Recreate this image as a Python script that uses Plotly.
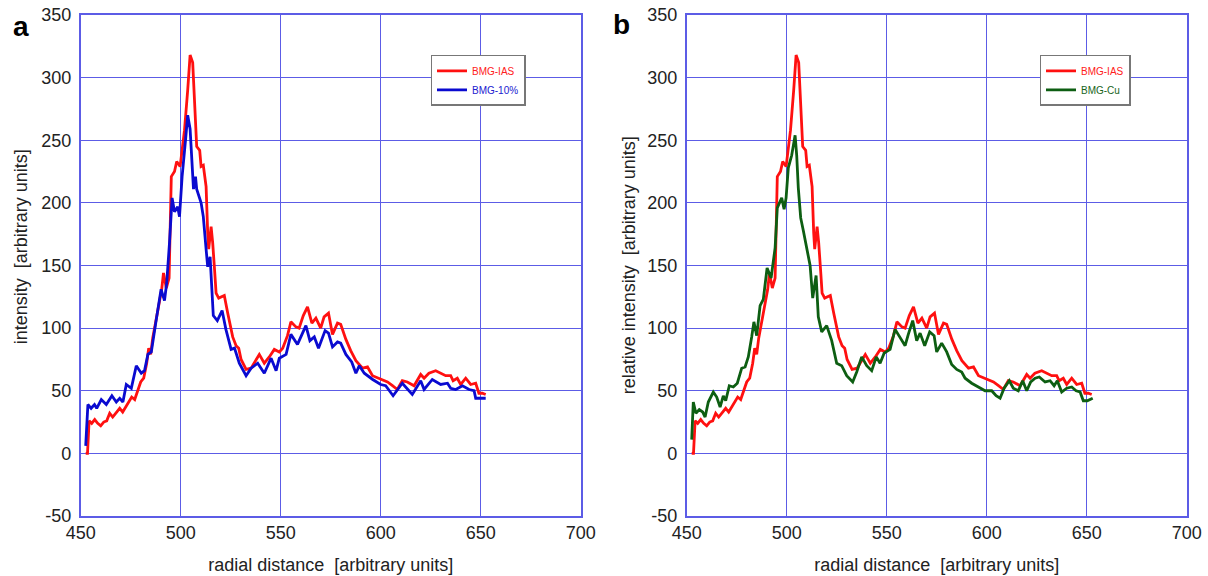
import plotly.graph_objects as go

# BMG-IAS (same curve in both panels)
ias_x = [452.5, 453.4, 454.2, 455.5, 457, 458.5, 460, 461.5, 463, 464.5, 466, 467.5, 469.5, 471, 472.5, 474,
         475.5, 477, 478.5, 480, 481.5, 483, 484, 485, 486, 487.8, 489.4, 490.5, 491.4, 492.8, 494.2, 495.3,
         496.9, 498, 499.7, 501.9, 503.5, 504.7, 506, 507.4, 508, 509.5, 510.2, 511.3, 512.7, 513.5, 514,
         515.2, 516, 517, 517.7, 519, 520.2, 521.8, 523.5, 526, 527.7, 529, 530.2, 532.7, 535.2, 537.7,
         539.3, 541.8, 544.3, 546.8, 549.3, 551, 553.4, 555.1, 557.6, 559.2, 561.3, 563.4, 565.6, 567.6,
         570, 571.7, 573.9, 575.9, 578.4, 580, 582.6, 585, 587.6, 590.9, 593.4, 595.9, 600, 603.4, 605.9,
         608.3, 610.8, 613.3, 616.7, 620, 621.7, 624.1, 627.5, 630, 632.5, 635, 636.2, 638.3, 640, 642.5,
         645, 647.5, 649.1, 650.8, 652.5]
ias_y = [0, 0, 26, 24, 27, 24, 22, 25, 26, 32, 29, 32, 36, 33, 37, 41,
         45, 43, 51, 57, 60, 72, 84, 79, 92, 107, 123, 131, 144, 132, 140, 221,
         225, 233, 229, 258, 290, 318, 312, 272, 245, 242, 229, 230, 213, 176, 163,
         181, 168, 145, 128, 124, 125, 126, 112, 93, 86, 84, 75, 67, 68, 75,
         79, 72, 77, 83, 81, 84, 94, 105, 101, 100, 110, 117, 104, 108,
         100, 109, 112, 95, 104, 103, 91, 82, 74, 68, 69, 62, 59, 57, 54,
         51, 58, 57, 54, 63, 60, 64, 66, 64, 62, 62, 58, 60, 55, 60,
         55, 56, 48, 48, 47]

# BMG-10%
p10_x = [452.5, 453.6, 455.2, 456.9, 458, 460.3, 462.8, 465.6, 467.8, 469.5, 471.1, 472.8, 475.3, 477.8,
         480.3, 481.9, 483.6, 485.3, 487.8, 490.2, 491.9, 493, 494.4, 495.7, 496.9, 498.5, 499.4, 500.7,
         502.4, 503.5, 504.7, 505.7, 506.4, 507.4, 508, 510.2, 511.3, 512.7, 513.5, 514.7, 516.3, 518.3,
         520.7, 522.6, 525.2, 526.9, 529.3, 532.7, 535.2, 538.5, 541.8, 545.2, 547.7, 549.3, 552.7, 555.1,
         558.4, 562.6, 564.6, 566.8, 568.9, 572.2, 573.9, 575.9, 578.4, 580, 582.6, 585.5, 587.6, 589.3,
         591.8, 596, 600, 602.5, 606.2, 610.8, 615.8, 620, 621.7, 625.8, 630, 633.4, 635, 637.5, 640.9,
         644.2, 646.7, 647.5, 650, 652.5]
p10_y = [6, 39, 36, 39, 36, 43, 39, 46, 41, 44, 41, 55, 52, 70,
         64, 66, 79, 81, 107, 131, 122, 136, 168, 204, 193, 197, 189, 221,
         250, 270, 259, 227, 211, 221, 211, 200, 189, 163, 149, 157, 110, 106,
         114, 99, 83, 84, 72, 62, 68, 72, 64, 76, 66, 76, 79, 95,
         87, 102, 90, 93, 84, 98, 96, 85, 89, 88, 79, 73, 64, 70,
         64, 59, 55, 54, 46, 56, 47, 58, 51, 59, 55, 56, 52, 51, 54,
         51, 50, 44, 44, 44]

# BMG-Cu
cu_x = [452.5, 453.3, 454.6, 456.3, 458, 459.2, 460.8, 463.3, 465, 466.7, 468.3, 469.5, 471.3, 473.3,
        475.3, 477.5, 479.2, 480.8, 482.5, 483.6, 485, 486.7, 488.3, 490.2, 492.2, 494.2, 495.3, 497.5,
        498.7, 499.7, 500.8, 502.5, 504.2, 505, 505.8, 507, 508.3, 510, 511.7, 513, 514.7, 515.8, 517.5,
        520, 522.5, 525, 527.5, 530, 533, 535, 537.5, 540, 542.5, 544.8, 546.7, 548.7, 551.7, 554.2,
        556.7, 559.2, 560.8, 563, 565, 566.7, 569, 571.5, 573.7, 575, 577.5, 580, 582.5, 585, 587.5,
        589.2, 592.5, 595.8, 599.2, 602.5, 604.7, 606.7, 608.7, 611.3, 613.3, 615.8, 618, 620, 622,
        624.2, 626.3, 629.2, 631.7, 633.7, 635.3, 637.5, 640, 642.5, 644.7, 646.7, 648.3, 650.3, 653]
cu_y = [11, 41, 32, 35, 33, 29, 41, 49, 45, 37, 46, 42, 54, 53,
        56, 68, 69, 77, 93, 105, 94, 118, 123, 148, 140, 164, 196, 204,
        195, 204, 228, 238, 254, 238, 212, 188, 178, 165, 150, 124, 142, 109, 97,
        102, 90, 72, 70, 62, 57, 65, 77, 70, 66, 77, 72, 80, 83, 99,
        92, 86, 95, 106, 90, 96, 86, 97, 94, 81, 88, 81, 71, 67, 65,
        60, 56, 53, 50, 50, 46, 44, 52, 58, 52, 50, 58, 50, 57,
        60, 61, 57, 58, 54, 58, 49, 52, 53, 50, 49, 42, 42, 44]

x_ticks = [450, 500, 550, 600, 650, 700]
y_ticks = [-50, 0, 50, 100, 150, 200, 250, 300, 350]
y_labels = ["-50", "0", "50", "100", "150", "200", "250", "300", "350"]

W, H = 1208, 576
T = 14.5
B = H - 516
grid = "#5c5ce6"
font = "Liberation Sans, Arial, sans-serif"
tfont = dict(size=18, color="#222", family=font)


def px(x):
    return x / W


def py(y):
    return 1 - (y - T) / (H - T - B)


fig = go.Figure()
fig.add_trace(go.Scatter(x=ias_x, y=ias_y, mode="lines", line=dict(color="#ff1010", width=2.8),
                         name="<span style='color:#ff2020'>BMG-IAS</span>", xaxis="x", yaxis="y", legend="legend"))
fig.add_trace(go.Scatter(x=p10_x, y=p10_y, mode="lines", line=dict(color="#0a0ad0", width=2.8),
                         name="<span style='color:#2020d0'>BMG-10%</span>", xaxis="x", yaxis="y", legend="legend"))
fig.add_trace(go.Scatter(x=ias_x, y=ias_y, mode="lines", line=dict(color="#ff1010", width=2.8),
                         name="<span style='color:#ff2020'>BMG-IAS</span>", xaxis="x2", yaxis="y2", legend="legend2"))
fig.add_trace(go.Scatter(x=cu_x, y=cu_y, mode="lines", line=dict(color="#0d5e12", width=2.8),
                         name="<span style='color:#17651a'>BMG-Cu</span>", xaxis="x2", yaxis="y2", legend="legend2"))

axis_common = dict(showgrid=True, gridcolor=grid, gridwidth=1, showline=True, linecolor=grid, linewidth=1.5,
                   mirror=True, zeroline=False, ticks="", tickfont=tfont, automargin=False,
                   ticklabeloverflow="allow")
xcommon = dict(axis_common, range=[450, 700], tickvals=x_ticks,
               title=dict(text="radial distance\u00a0 [arbitrary units]", font=tfont, standoff=16))
ycommon = dict(axis_common, range=[-50, 350], tickvals=y_ticks, ticktext=y_labels, ticklabelstandoff=4)

leg = dict(bgcolor="white", bordercolor="#777", borderwidth=1.5, font=dict(size=10, family=font),
           itemwidth=30, tracegroupgap=0, xanchor="center", yanchor="middle")

fig.update_layout(
    width=W, height=H,
    margin=dict(l=0, r=0, t=T, b=B),
    paper_bgcolor="white", plot_bgcolor="white",
    showlegend=True,
    xaxis=dict(xcommon, domain=[px(80.7), px(580.7)], anchor="y"),
    yaxis=dict(ycommon, domain=[0, 1], anchor="x"),
    xaxis2=dict(xcommon, domain=[px(686.7), px(1186.7)], anchor="y2"),
    yaxis2=dict(ycommon, domain=[0, 1], anchor="x2"),
    legend=dict(leg, x=px(478), y=py(80)),
    legend2=dict(leg, x=px(1085), y=py(80)),
    annotations=[
        dict(text="<b>a</b>", x=px(21), y=py(26), xref="paper", yref="paper", showarrow=False,
             xanchor="center", yanchor="middle", font=dict(size=28, family=font, color="black")),
        dict(text="<b>b</b>", x=px(621), y=py(24), xref="paper", yref="paper", showarrow=False,
             xanchor="center", yanchor="middle", font=dict(size=28, family=font, color="black")),
        dict(text="intensity\u00a0 [arbitrary units]", x=px(21), y=py(247), xref="paper", yref="paper",
             showarrow=False, textangle=-90, xanchor="center", yanchor="middle", font=tfont),
        dict(text="relative intensity\u00a0 [arbitrary units]", x=px(629), y=py(265), xref="paper", yref="paper",
             showarrow=False, textangle=-90, xanchor="center", yanchor="middle", font=tfont),
    ],
)

# drop the default 8px page margin so the figure fills the window exactly
fig.write_html("out.html", config={"displayModeBar": False},
               post_script="document.body.style.margin='0';")
